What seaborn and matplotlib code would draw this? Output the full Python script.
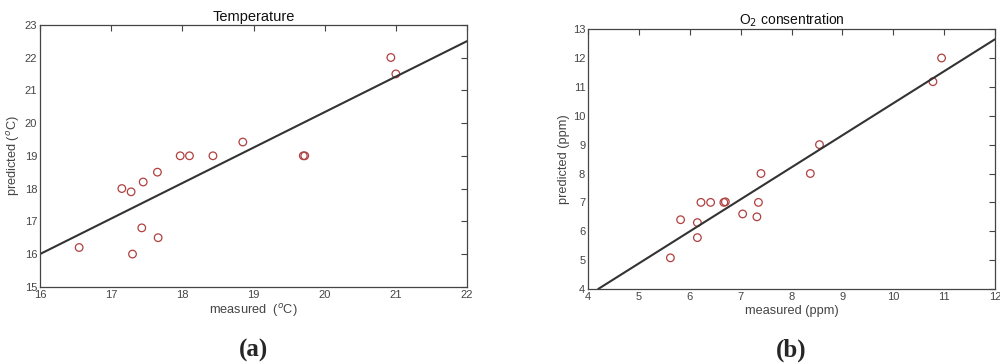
import numpy as np
import pandas as pd
import seaborn as sns
import matplotlib.pyplot as plt

# Temperature panel (measured vs predicted, degC)
temp_measured = [16.55, 17.15, 17.28, 17.30, 17.43, 17.45, 17.65, 17.66,
                 17.97, 18.10, 18.43, 18.85, 19.70, 19.72, 20.93, 21.00]
temp_predicted = [16.2, 18.0, 17.9, 16.0, 16.8, 18.2, 18.5, 16.5,
                  19.0, 19.0, 19.0, 19.42, 19.0, 19.0, 22.0, 21.5]
temp_fit_x = [16.0, 22.0]
temp_fit_y = [16.0, 22.5]

# O2 panel (measured vs predicted, ppm)
o2_measured = [5.62, 5.82, 6.15, 6.15, 6.22, 6.41, 6.67, 6.70,
               7.04, 7.32, 7.35, 7.40, 8.37, 8.55, 10.78, 10.95]
o2_predicted = [5.08, 6.4, 6.3, 5.78, 7.0, 7.0, 7.0, 7.02,
                6.6, 6.5, 7.0, 8.0, 8.0, 9.0, 11.18, 12.0]
o2_fit_x = [4.2, 12.0]
o2_fit_y = [4.0, 12.65]

sns.set_style("white")
plt.rcParams['font.family'] = ['Liberation Sans', 'DejaVu Sans']

fig = plt.figure(figsize=(10, 3.64), dpi=100)
ax1 = fig.add_axes([0.040, 0.212, 0.427, 0.720])
ax2 = fig.add_axes([0.588, 0.206, 0.407, 0.714])

panels = [
    (ax1, temp_measured, temp_predicted, temp_fit_x, temp_fit_y,
     'Temperature', 'measured  ($^{o}$C)', 'predicted ($^{o}$C)',
     (16, 22), (15, 23), '(a)', 10.5),
    (ax2, o2_measured, o2_predicted, o2_fit_x, o2_fit_y,
     'O$_2$ consentration', 'measured (ppm)', 'predicted (ppm)',
     (4, 12), (4, 13), '(b)', 10),
]

for ax, mx, py, fx, fy, title, xl, yl, xlim, ylim, tag, tsize in panels:
    df = pd.DataFrame({'measured': mx, 'predicted': py})
    fit = pd.DataFrame({'x': fx, 'y': fy})
    sns.lineplot(data=fit, x='x', y='y', ax=ax, color='#333333', lw=1.5)
    sns.scatterplot(data=df, x='measured', y='predicted', ax=ax, s=30,
                    marker='o', facecolors='none', edgecolor='#b04040',
                    linewidth=0.9)
    ax.set_xlim(*xlim)
    ax.set_ylim(*ylim)
    ax.set_xticks(np.arange(xlim[0], xlim[1] + 1))
    ax.set_yticks(np.arange(ylim[0], ylim[1] + 1))
    ax.tick_params(direction='in', top=True, right=True, length=4.5,
                   labelsize=8, labelcolor='#444444', color='#444444',
                   pad=2)
    for s in ax.spines.values():
        s.set_color('#444444')
        s.set_linewidth(0.9)
    ax.set_title(title, fontsize=tsize, color='#111111', pad=3)
    ax.set_xlabel(xl, fontsize=9.2, color='#444444', labelpad=2)
    ax.set_ylabel(yl, fontsize=9.2, color='#444444', labelpad=2)
    pos = ax.get_position()
    fig.text((pos.x0 + pos.x1) / 2, 0.038, tag, ha='center', va='center',
             fontsize=18, fontweight='bold', family='Liberation Serif')

fig.savefig('out.png', dpi=100)
